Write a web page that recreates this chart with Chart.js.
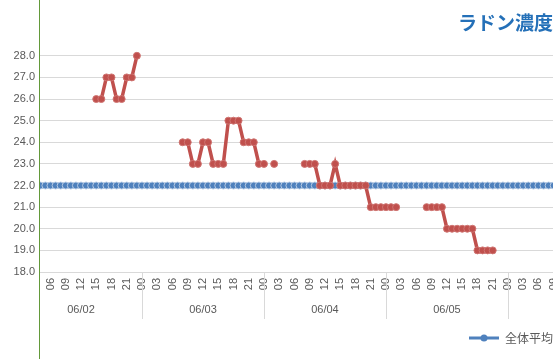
<!DOCTYPE html>
<html>
<head>
<meta charset="utf-8">
<script src="https://cdn.jsdelivr.net/npm/chart.js@4.4.1/dist/chart.umd.min.js"></script>
<style>
  body { margin: 0; background: #fff; }
  #wrap { width: 553px; height: 359px; overflow: hidden; }
</style>
</head>
<body>
<div id="wrap"><canvas id="myChart" width="553" height="359"></canvas></div>
<script>
// hours counted from 06/02 00:00
const radonHours = [15, 16, 17, 18, 19, 20, 21, 22, 23, 24,
  32, 33, 34, 35, 36, 37, 38, 39, 40, 41, 42, 43, 44, 45, 46, 47, 48, 49, 50, 51,
  56, 57, 58, 59, 60, 61, 62, 63, 64, 65, 66, 67, 68, 69, 70, 71, 72, 73, 74, 75,
  80, 81, 82, 83, 84, 85, 86, 87, 88, 89, 90, 91, 92, 93];
const radonValues = [26, 26, 27, 27, 26, 26, 27, 27, 28, null,
  24, 24, 23, 23, 24, 24, 23, 23, 23, 25, 25, 25, 24, 24, 24, 23, 23, null, 23, null,
  23, 23, 23, 22, 22, 22, 23, 22, 22, 22, 22, 22, 22, 21, 21, 21, 21, 21, 21, null,
  21, 21, 21, 21, 20, 20, 20, 20, 20, 20, 19, 19, 19, 19];

const averageValue = 22.0;

const hourTicks = [6, 9, 12, 15, 18, 21, 24, 27, 30, 33, 36, 39, 42, 45, 48, 51, 54, 57,
  60, 63, 66, 69, 72, 75, 78, 81, 84, 87, 90, 93, 96, 99, 102, 105];
const dateTicks = [12, 36, 60, 84];
const dateLabels = ["06/02", "06/03", "06/04", "06/05"];
const dividerHours = [24, 48, 72, 96];

const xMin = 3.74;
const xMax = 104.86;

let hours = [];
for (let h = 3; h <= 106; h++) {
  hours.push(h);
}

const radonData = radonHours.map((h, i) => ({ x: h, y: radonValues[i] }));
const averageData = hours.map((h) => ({ x: h, y: averageValue }));

const tickFont = { family: "Liberation Sans", size: 11 };
const tickColor = "#595959";

// legend icon: line with dot
const legendIcon = document.createElement("canvas");
legendIcon.width = 30;
legendIcon.height = 8;
let ictx = legendIcon.getContext("2d");
ictx.strokeStyle = "#4f81bd";
ictx.lineWidth = 3;
ictx.beginPath();
ictx.moveTo(0, 4);
ictx.lineTo(30, 4);
ictx.stroke();
ictx.fillStyle = "#4f81bd";
ictx.beginPath();
ictx.arc(15, 4, 3.5, 0, Math.PI * 2);
ictx.fill();

const decor = {
  id: "decor",
  afterDraw(chart) {
    const ctx = chart.ctx;
    const x = chart.scales.x;
    const area = chart.chartArea;
    ctx.save();
    ctx.strokeStyle = "#d9d9d9";
    ctx.lineWidth = 1;
    for (let i = 0; i < dividerHours.length; i++) {
      let px = Math.round(x.getPixelForValue(dividerHours[i])) + 0.5;
      if (px < area.left || px > area.right) continue;
      ctx.beginPath();
      ctx.moveTo(px, area.bottom);
      ctx.lineTo(px, area.bottom + 47);
      ctx.stroke();
    }
    ctx.strokeStyle = "#63993a";
    ctx.beginPath();
    ctx.moveTo(39.5, 0);
    ctx.lineTo(39.5, 359);
    ctx.stroke();
    ctx.restore();
  },
};

new Chart("myChart", {
  type: "line",
  data: {
    datasets: [
      {
        label: "ラドン濃度",
        data: radonData,
        borderColor: "#c0504d",
        backgroundColor: "#c0504d",
        borderWidth: 3.5,
        pointRadius: 3.5,
        pointBorderWidth: 1,
        pointBorderColor: "#cf7572",
        pointBackgroundColor: "#c0504d",
        spanGaps: false,
        clip: { left: 0, right: 0, top: 6, bottom: 0 },
      },
      {
        label: "全体平均",
        data: averageData,
        borderColor: "#4f81bd",
        backgroundColor: "#4f81bd",
        borderWidth: 3,
        pointRadius: 3.5,
        pointBorderWidth: 1,
        pointBorderColor: "#b7cbe4",
        pointBackgroundColor: "#4f81bd",
      },
    ],
  },
  options: {
    responsive: false,
    animation: false,
    layout: { autoPadding: false, padding: { bottom: 5, right: 0, left: 0, top: 0 } },
    scales: {
      x: {
        type: "linear",
        position: "bottom",
        weight: 0,
        min: xMin,
        max: xMax,
        grid: { display: false, drawTicks: false },
        border: { display: false },
        afterBuildTicks: (scale) => {
          scale.ticks = hourTicks.map((v) => ({ value: v }));
        },
        afterFit: (scale) => {
          scale.height = 25;
          scale.paddingLeft = 0;
          scale.paddingRight = 0;
        },
        ticks: {
          autoSkip: false,
          minRotation: 90,
          maxRotation: 90,
          padding: 6,
          color: tickColor,
          font: tickFont,
          callback: (v) => String(v % 24).padStart(2, "0"),
        },
      },
      xDate: {
        type: "linear",
        position: "bottom",
        weight: 1,
        min: xMin,
        max: xMax,
        grid: { display: false, drawTicks: false },
        border: { display: false },
        afterBuildTicks: (scale) => {
          scale.ticks = dateTicks.map((v) => ({ value: v }));
        },
        afterFit: (scale) => {
          scale.height = 35;
          scale.paddingLeft = 0;
          scale.paddingRight = 0;
        },
        ticks: {
          autoSkip: false,
          maxRotation: 0,
          padding: 6,
          color: tickColor,
          font: tickFont,
          callback: (v, i) => dateLabels[i],
        },
      },
      y: {
        min: 18,
        max: 28,
        afterFit: (scale) => {
          scale.width = 39;
        },
        grid: { color: "#d9d9d9", drawTicks: false },
        border: { display: false },
        ticks: {
          stepSize: 1,
          padding: 4,
          color: tickColor,
          font: tickFont,
          callback: (v) => v.toFixed(1),
        },
      },
    },
    plugins: {
      tooltip: { enabled: false },
      title: {
        display: true,
        text: "ラドン濃度",
        align: "end",
        color: "#2470b8",
        font: { family: "Noto Sans CJK JP", size: 19, weight: "bold" },
        padding: { top: 11, bottom: 22 },
      },
      legend: {
        position: "bottom",
        align: "end",
        labels: {
          usePointStyle: true,
          pointStyleWidth: 30,
          padding: 0,
          color: tickColor,
          font: { family: "Noto Sans CJK JP", size: 12 },
          generateLabels: () => [
            {
              text: "全体平均",
              pointStyle: legendIcon,
              fontColor: tickColor,
              fillStyle: "#4f81bd",
              strokeStyle: "#4f81bd",
              lineWidth: 0,
              datasetIndex: 1,
            },
          ],
        },
      },
    },
  },
  plugins: [decor],
});
</script>
</body>
</html>
